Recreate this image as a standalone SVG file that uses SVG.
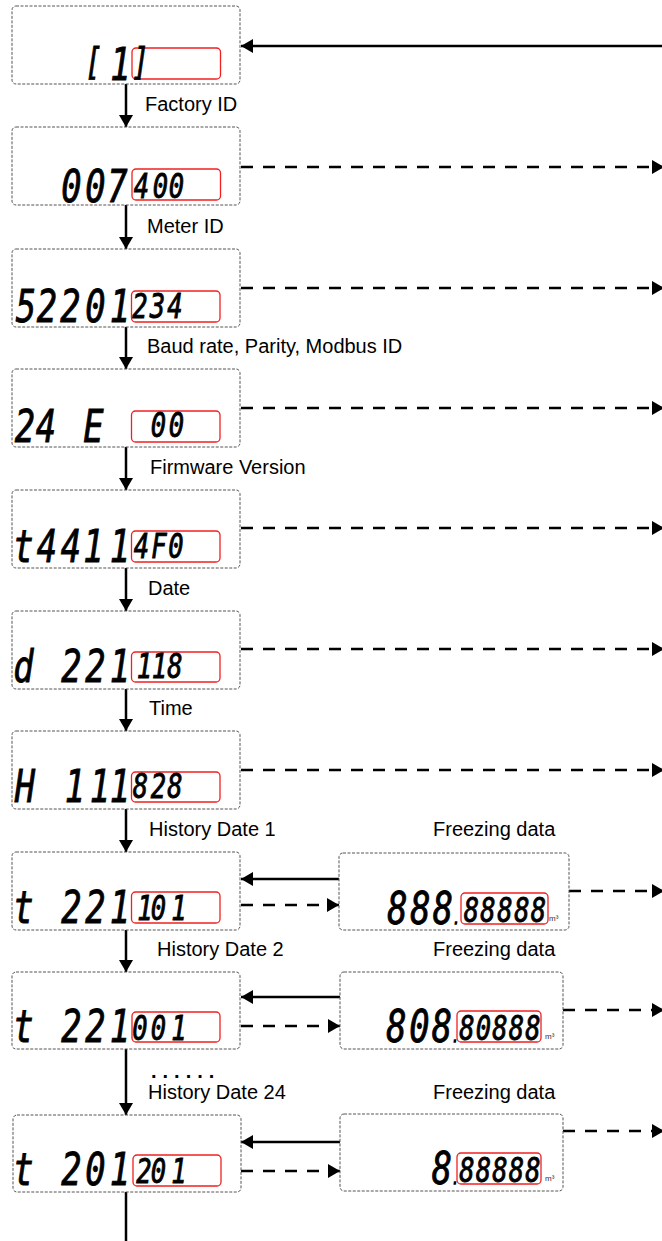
<svg xmlns="http://www.w3.org/2000/svg" width="662" height="1241" viewBox="0 0 662 1241">
<style>
.box{fill:#fff;stroke:#555;stroke-width:1;stroke-dasharray:3 1.5}
.red{fill:none;stroke:#f02020;stroke-width:1.3}
.lbl{font-family:"Liberation Sans",Arial,sans-serif;font-size:20px;fill:#000}
.lcd{font-family:"DejaVu Sans Mono",monospace;font-style:italic;text-anchor:middle;fill:#000;stroke:#000;stroke-width:0.9}
.L{font-size:45px}
.S{font-size:34px}
.B{font-size:37px}
.dp{font-size:14px;stroke-width:1.5}
.unit{font-family:"Liberation Sans",Arial,sans-serif;font-size:8px;fill:#333}
.ln{stroke:#000;stroke-width:2.5;fill:none}
.dash{stroke-dasharray:12 10}
</style>
<defs>
<marker id="ah" markerUnits="userSpaceOnUse" markerWidth="12" markerHeight="14" refX="12" refY="7" orient="auto">
<path d="M0,0 L12,7 L0,14 Z" fill="#000"/>
</marker>
</defs>

<g id="connectors">
<line class="ln" x1="662" y1="46" x2="241" y2="46" marker-end="url(#ah)"/>
<line class="ln" x1="126" y1="84" x2="126" y2="127" marker-end="url(#ah)"/>
<line class="ln" x1="126" y1="205" x2="126" y2="249" marker-end="url(#ah)"/>
<line class="ln" x1="126" y1="327" x2="126" y2="369" marker-end="url(#ah)"/>
<line class="ln" x1="126" y1="447" x2="126" y2="490" marker-end="url(#ah)"/>
<line class="ln" x1="126" y1="567" x2="126" y2="611" marker-end="url(#ah)"/>
<line class="ln" x1="126" y1="688" x2="126" y2="731" marker-end="url(#ah)"/>
<line class="ln" x1="126" y1="808" x2="126" y2="852" marker-end="url(#ah)"/>
<line class="ln" x1="126" y1="930" x2="126" y2="972" marker-end="url(#ah)"/>
<line class="ln" x1="126" y1="1049" x2="126" y2="1115" marker-end="url(#ah)"/>
<line class="ln" x1="126" y1="1192" x2="126" y2="1241"/>
<line class="ln dash" x1="241" y1="167" x2="664" y2="167" marker-end="url(#ah)"/>
<line class="ln dash" x1="241" y1="288" x2="664" y2="288" marker-end="url(#ah)"/>
<line class="ln dash" x1="241" y1="408" x2="664" y2="408" marker-end="url(#ah)"/>
<line class="ln dash" x1="241" y1="528" x2="664" y2="528" marker-end="url(#ah)"/>
<line class="ln dash" x1="241" y1="649" x2="664" y2="649" marker-end="url(#ah)"/>
<line class="ln dash" x1="241" y1="770" x2="664" y2="770" marker-end="url(#ah)"/>
<line class="ln" x1="339" y1="879" x2="241" y2="879" marker-end="url(#ah)"/>
<line class="ln dash" x1="241" y1="905" x2="339" y2="905" marker-end="url(#ah)"/>
<line class="ln dash" x1="569" y1="891" x2="664" y2="891" marker-end="url(#ah)"/>
<line class="ln" x1="340" y1="997" x2="241" y2="997" marker-end="url(#ah)"/>
<line class="ln dash" x1="241" y1="1026" x2="340" y2="1026" marker-end="url(#ah)"/>
<line class="ln dash" x1="563" y1="1010" x2="664" y2="1010" marker-end="url(#ah)"/>
<line class="ln" x1="340" y1="1142" x2="241" y2="1142" marker-end="url(#ah)"/>
<line class="ln dash" x1="241" y1="1171" x2="340" y2="1171" marker-end="url(#ah)"/>
<line class="ln dash" x1="563" y1="1131" x2="664" y2="1131" marker-end="url(#ah)"/>
</g>

<g id="labels">
<text class="lbl" x="145" y="111">Factory ID</text>
<text class="lbl" x="147" y="233">Meter ID</text>
<text class="lbl" x="147" y="353">Baud rate, Parity, Modbus ID</text>
<text class="lbl" x="150" y="474">Firmware Version</text>
<text class="lbl" x="148" y="595">Date</text>
<text class="lbl" x="149" y="715">Time</text>
<text class="lbl" x="149" y="836">History Date 1</text>
<text class="lbl" x="433" y="836">Freezing data</text>
<text class="lbl" x="157" y="956">History Date 2</text>
<text class="lbl" x="433" y="956">Freezing data</text>
<text class="lbl" x="151" y="1078" font-weight="bold" letter-spacing="6">......</text>
<text class="lbl" x="148" y="1099">History Date 24</text>
<text class="lbl" x="433" y="1099">Freezing data</text>
</g>

<g id="n1">
<rect class="box" x="12" y="6" width="228" height="78" rx="4"/>
<rect class="red" x="132" y="48" width="88.5" height="31" rx="4"/>
<text class="lcd B" transform="translate(0,75) scale(0.75,1)" x="124.67" y="0">[</text>
<text class="lcd L" transform="translate(0,80) scale(0.75,1)" x="160.67" y="0">1</text>
<text class="lcd B" transform="translate(0,75) scale(0.75,1)" x="187.33" y="0">]</text>
</g>

<g id="n2">
<rect class="box" x="12" y="127" width="228" height="78" rx="4"/>
<rect class="red" x="132" y="169" width="88.5" height="31" rx="4"/>
<text class="lcd L" transform="translate(0,202) scale(0.75,1)" x="95.33 127.33 156.67" y="0">007</text>
<text class="lcd S" transform="translate(0,198) scale(0.75,1)" x="188.67 214 235.33" y="0">400</text>
</g>

<g id="n3">
<rect class="box" x="12" y="249" width="228" height="78" rx="4"/>
<rect class="red" x="131.5" y="291" width="88.5" height="31" rx="4"/>
<text class="lcd L" transform="translate(0,322) scale(0.75,1)" x="34.67 62.67 94 127.33 160" y="0">52201</text>
<text class="lcd S" transform="translate(0,318) scale(0.75,1)" x="186.67 210 233.33" y="0">234</text>
</g>

<g id="n4">
<rect class="box" x="12" y="369" width="228" height="78" rx="4"/>
<rect class="red" x="131.5" y="411" width="88.5" height="31" rx="4"/>
<text class="lcd L" transform="translate(0,442) scale(0.75,1)" x="33.33 61.33 124.67" y="0">24E</text>
<text class="lcd S" transform="translate(0,437) scale(0.75,1)" x="211.33 235.33" y="0">00</text>
</g>

<g id="n5">
<rect class="box" x="12" y="490" width="228" height="78" rx="4"/>
<rect class="red" x="131.5" y="531" width="88.5" height="31" rx="4"/>
<text class="lcd L" transform="translate(0,562) scale(0.75,1)" x="31.33 62.67 94.67 124.67 160" y="0">t4411</text>
<text class="lcd S" transform="translate(0,558) scale(0.75,1)" x="188.67 212 234.67" y="0">4F0</text>
</g>

<g id="n6">
<rect class="box" x="12" y="611" width="228" height="78" rx="4"/>
<rect class="red" x="131.5" y="652" width="88.5" height="30" rx="4"/>
<text class="lcd L" transform="translate(0,682) scale(0.75,1)" x="31.33 95.33 127.33 160" y="0">d221</text>
<text class="lcd S" transform="translate(0,678) scale(0.75,1)" x="192.67 212.67 233.33" y="0">118</text>
</g>

<g id="n7">
<rect class="box" x="12" y="731" width="228" height="78" rx="4"/>
<rect class="red" x="131.5" y="772" width="88.5" height="30" rx="4"/>
<text class="lcd L" transform="translate(0,802) scale(0.75,1)" x="33.33 100 133.33 160" y="0">H111</text>
<text class="lcd S" transform="translate(0,798) scale(0.75,1)" x="187.33 211.33 233.33" y="0">828</text>
</g>

<g id="n8">
<rect class="box" x="12" y="852" width="228" height="78" rx="4"/>
<rect class="red" x="131.5" y="892" width="88.5" height="31" rx="4"/>
<text class="lcd L" transform="translate(0,923) scale(0.75,1)" x="31.33 95.33 127.33 160" y="0">t221</text>
<text class="lcd S" transform="translate(0,920) scale(0.75,1)" x="193.33 211.33 238.67" y="0">101</text>
</g>

<g id="n8r">
<rect class="box" x="339" y="853" width="230" height="77" rx="4"/>
<rect class="red" x="461" y="893" width="87" height="31" rx="4"/>
<text class="lcd" transform="translate(0,924) scale(0.75,1)" y="0"><tspan class="L" x="530 560.67 590.67">888</tspan><tspan class="dp" x="608.67">.</tspan><tspan class="S" x="628.67 650.67 673.33 696 718" dy="-2">88888</tspan></text>
<text class="unit" x="549" y="921">m³</text>
</g>

<g id="n9">
<rect class="box" x="12" y="972" width="228" height="77" rx="4"/>
<rect class="red" x="132" y="1012" width="88" height="30" rx="4"/>
<text class="lcd L" transform="translate(0,1042) scale(0.75,1)" x="31.33 95.33 127.33 160" y="0">t221</text>
<text class="lcd S" transform="translate(0,1040) scale(0.75,1)" x="186.67 211.33 238.67" y="0">001</text>
</g>

<g id="n9r">
<rect class="box" x="340" y="972" width="223" height="77" rx="4"/>
<rect class="red" x="457" y="1011" width="84" height="31" rx="4"/>
<text class="lcd" transform="translate(0,1042) scale(0.75,1)" y="0"><tspan class="L" x="528.67 559.33 589.33">808</tspan><tspan class="dp" x="607.33">.</tspan><tspan class="S" x="622.67 644.67 666.67 688.67 710.67" dy="-2">80888</tspan></text>
<text class="unit" x="545" y="1039">m³</text>
</g>

<g id="n10">
<rect class="box" x="13" y="1115" width="228" height="77" rx="4"/>
<rect class="red" x="133" y="1155" width="88" height="31" rx="4"/>
<text class="lcd L" transform="translate(0,1185) scale(0.75,1)" x="31.33 95.33 127.33 160" y="0">t201</text>
<text class="lcd S" transform="translate(0,1183) scale(0.75,1)" x="192 211.33 238.67" y="0">201</text>
</g>

<g id="n10r">
<rect class="box" x="340" y="1114" width="223" height="77" rx="4"/>
<rect class="red" x="457" y="1153" width="84" height="31" rx="4"/>
<text class="lcd" transform="translate(0,1184) scale(0.75,1)" y="0"><tspan class="L" x="589.33">8</tspan><tspan class="dp" x="607.33">.</tspan><tspan class="S" x="622.67 644.67 666.67 688.67 710.67" dy="-2">88888</tspan></text>
<text class="unit" x="545" y="1181">m³</text>
</g>
</svg>
